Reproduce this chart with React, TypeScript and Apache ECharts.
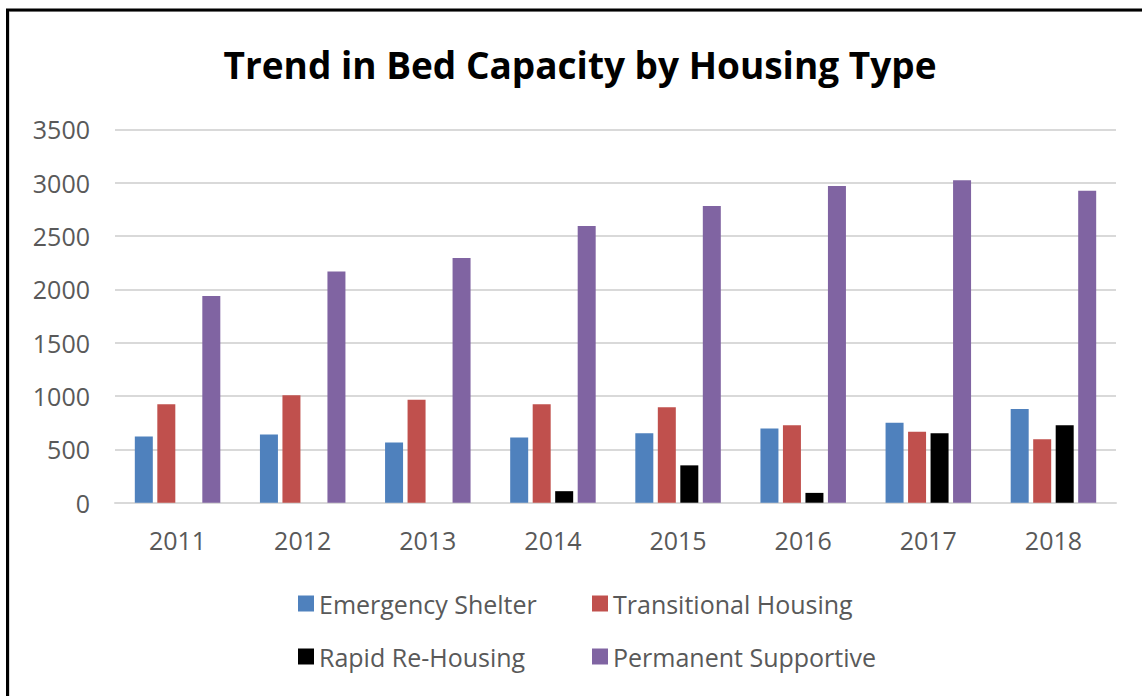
import React, { useEffect, useRef } from "react";
import * as echarts from "echarts";

const categories = ["2011", "2012", "2013", "2014", "2015", "2016", "2017", "2018"];
const emergencyShelter = [620, 640, 565, 610, 650, 695, 750, 878];
const transitionalHousing = [922, 1008, 966, 922, 894, 726, 666, 594];
const rapidReHousing = [null, null, null, 108, 350, 92, 650, 726];
const permanentSupportive = [1938, 2168, 2294, 2594, 2781, 2968, 3022, 2925];
const seriesNames = ["Emergency Shelter", "Transitional Housing", "Rapid Re-Housing", "Permanent Supportive"];
const seriesColors = ["#4F81BD", "#C0504D", "#000000", "#8064A2"];
const titleText = "Trend in Bed Capacity by Housing Type";

const FONT = "Open Sans";

export default function App() {
  const ref = useRef<HTMLDivElement>(null);
  useEffect(() => {
    if (!ref.current) return;
    const chart = echarts.init(ref.current, null, { renderer: "svg" });
    const data = [emergencyShelter, transitionalHousing, rapidReHousing, permanentSupportive];
    const legendPos = [
      { left: 293, top: 586 },
      { left: 587, top: 586 },
      { left: 293, top: 639 },
      { left: 587, top: 639 },
    ];
    chart.setOption({
      animation: false,
      backgroundColor: "#ffffff",
      title: {
        text: titleText,
        left: 575,
        top: 41,
        textAlign: "center",
        textStyle: { fontFamily: FONT, fontWeight: "bold", fontSize: 37, color: "#000000" },
      },
      legend: seriesNames.map((n, i) => ({
        data: [n],
        left: legendPos[i].left,
        top: legendPos[i].top,
        itemWidth: 16,
        itemHeight: 16,
        itemGap: 8,
        icon: "rect",
        textStyle: { fontFamily: FONT, fontSize: 25, color: "#595959" },
        selectedMode: false,
      })),
      grid: { left: 115, right: 26, top: 129.3, bottom: 193.3, containLabel: false },
      xAxis: {
        type: "category",
        data: categories,
        axisLine: { show: true, lineStyle: { color: "#d9d9d9", width: 2 } },
        axisTick: { show: false },
        axisLabel: { fontFamily: FONT, fontSize: 25, color: "#595959", margin: 25 },
      },
      yAxis: {
        type: "value",
        min: 0,
        max: 3500,
        interval: 500,
        axisLine: { show: false },
        axisTick: { show: false },
        splitLine: { lineStyle: { color: "#d9d9d9", width: 2 } },
        axisLabel: {
          fontFamily: FONT,
          fontSize: 25,
          color: "#595959",
          margin: 25,
          formatter: (v: number) => String(v),
        },
      },
      series: seriesNames.map((n, i) => ({
        name: n,
        type: "bar",
        data: data[i],
        barWidth: 18,
        barGap: "25%",
        itemStyle: { color: seriesColors[i] },
      })),
      graphic: [
        {
          type: "rect",
          shape: { x: 9.5, y: 11.5, width: 1200, height: 800 },
          style: { fill: "none", stroke: "#d9d9d9", lineWidth: 1 },
          silent: true,
        },
        {
          type: "rect",
          shape: { x: 7.5, y: 10, width: 1200, height: 800 },
          style: { fill: "none", stroke: "#000000", lineWidth: 3 },
          silent: true,
        },
      ],
    });
    return () => chart.dispose();
  }, []);
  return (
    <div
      ref={ref}
      style={{ position: "absolute", left: 0, top: 0, width: 1142, height: 696 }}
    />
  );
}
